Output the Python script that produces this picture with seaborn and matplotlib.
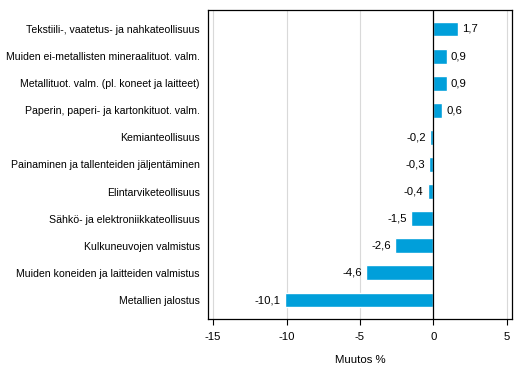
import numpy as np
import pandas as pd
import matplotlib
matplotlib.use('Agg')
import matplotlib.pyplot as plt
import seaborn as sns

categories = ['Tekstiili-, vaatetus- ja nahkateollisuus',
              'Muiden ei-metallisten mineraalituot. valm.',
              'Metallituot. valm. (pl. koneet ja laitteet)',
              'Paperin, paperi- ja kartonkituot. valm.',
              'Kemianteollisuus',
              'Painaminen ja tallenteiden jäljentäminen',
              'Elintarviketeollisuus',
              'Sähkö- ja elektroniikkateollisuus',
              'Kulkuneuvojen valmistus',
              'Muiden koneiden ja laitteiden valmistus',
              'Metallien jalostus']
values = [1.7, 0.9, 0.9, 0.6, -0.2, -0.3, -0.4, -1.5, -2.6, -4.6, -10.1]
xticks = [-15, -10, -5, 0, 5]

df = pd.DataFrame({'cat': categories, 'val': values})

sns.set_style('white')
plt.rcParams['font.family'] = ['Liberation Sans', 'DejaVu Sans']
plt.rcParams['font.size'] = 7.6
plt.rcParams['text.color'] = 'black'
plt.rcParams['xtick.color'] = 'black'
plt.rcParams['ytick.color'] = 'black'
plt.rcParams['axes.labelcolor'] = 'black'

fig = plt.figure(figsize=(5.29, 3.78), dpi=100)
ax = fig.add_axes([208/529, 1-319/378, (512-208)/529, (319-10)/378])

ax.set_axisbelow(True)
for t in xticks:
    if t != 0:
        ax.axvline(t, color='#d9d9d9', lw=0.8, zorder=0)

sns.barplot(data=df, x='val', y='cat', orient='h', color='#009fda',
            saturation=1, width=0.55, ax=ax, zorder=2)
ax.axvline(0, color='black', lw=0.9, zorder=3)

for i, v in enumerate(values):
    txt = f'{v:.1f}'.replace('.', ',')
    if v >= 0:
        ax.text(v + 0.28, i, txt, va='center', ha='left', fontsize=8.2)
    else:
        ax.text(v - 0.28, i, txt, va='center', ha='right', fontsize=8.2)

ax.set_xlim(-15.35, 5.35)
ax.set_ylim(10.7, -0.7)
ax.set_xticks(xticks)
ax.set_xticklabels([str(t) for t in xticks])
ax.set_xlabel('Muutos %', fontsize=8.2, labelpad=10)
ax.set_ylabel('')
ax.tick_params(axis='x', direction='out', length=4, width=0.8, bottom=True, pad=5, labelsize=8.2)
ax.tick_params(axis='y', length=0, pad=6, labelsize=7.6)
for s in ax.spines.values():
    s.set_color('black')
    s.set_linewidth(0.9)

fig.savefig('out.png', dpi=100)
